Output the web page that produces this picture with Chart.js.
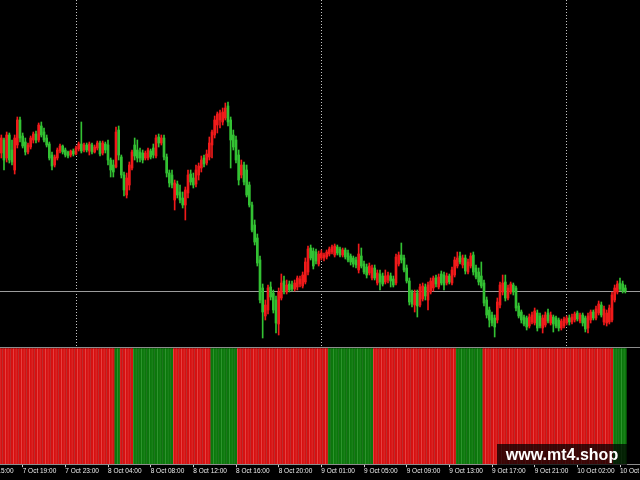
<!DOCTYPE html>
<html><head><meta charset="utf-8">
<script src="https://cdn.jsdelivr.net/npm/chart.js@4.4.0/dist/chart.umd.min.js"></script>
<style>
html,body{margin:0;padding:0;background:#000;width:640px;height:480px;overflow:hidden}
#top{position:absolute;left:0;top:0}
#bot{position:absolute;left:0;top:346px}
#wm{position:absolute;left:497px;top:444px;width:130px;height:21px;background:rgba(0,0,0,0.72);color:#fff;font:bold 16px "Liberation Sans",Arial,sans-serif;line-height:21px;text-align:center}
</style></head><body>
<canvas id="top" width="640" height="346"></canvas>
<canvas id="bot" width="640" height="134"></canvas>
<div id="wm">www.mt4.shop</div>
<script>
// Prices in points (M15 bars)
const openPts = [
192,205,187,210,195,175,200,225,209,203,
193,198,205,211,205,219,213,207,201,190,
180,187,194,199,195,193,190,194,191,196,
201,195,200,194,200,193,197,202,192,201,
200,185,180,178,215,188,170,150,160,177,
200,195,193,192,187,187,194,197,189,208,
202,207,188,172,170,145,161,153,147,140,
152,171,167,161,170,177,187,182,188,200,
210,220,225,223,227,239,225,210,205,190,
170,180,175,160,140,120,107,85,57,29,
35,58,52,45,21,47,64,53,61,60,
56,58,61,59,63,73,97,94,93,81,
87,87,88,91,93,90,98,96,90,95,
92,89,87,85,75,89,81,78,72,67,
77,62,71,69,63,65,69,66,62,81,
90,87,77,64,53,40,52,40,46,58,
45,53,57,67,58,71,70,62,69,62,
70,79,89,80,87,73,79,90,77,73,
69,62,45,35,30,27,25,40,53,63,
47,53,60,57,39,33,28,27,19,23,
22,32,29,17,20,32,22,28,27,25,
17,19,22,27,23,25,32,24,30,27,
17,25,33,27,32,40,23,22,23,25,
45,53,62,61,57];
const highPts = [
210,207,213,212,205,210,228,228,212,207,
202,209,213,214,222,223,217,210,203,193,
190,197,201,200,197,194,195,196,199,203,
223,202,202,203,202,200,204,204,204,203,
205,187,185,218,219,190,173,172,183,195,
207,205,197,195,194,197,196,201,210,211,
210,210,191,175,175,165,164,160,153,158,
175,175,172,180,182,189,190,195,208,215,
229,233,235,237,242,243,228,215,209,195,
185,183,180,163,143,125,111,89,61,45,
60,63,55,49,57,71,69,65,64,64,
65,69,69,73,87,99,100,97,96,94,
95,92,95,98,100,101,100,98,97,97,
95,91,89,88,101,97,84,81,82,80,
80,75,75,72,75,73,72,69,91,93,
102,90,80,67,55,55,55,61,62,61,
63,67,69,70,71,74,73,72,71,78,
88,93,93,90,90,86,92,93,80,77,
83,65,48,38,33,30,47,63,70,70,
60,63,62,59,42,35,30,29,31,33,
37,35,32,30,33,36,33,30,29,27,
26,28,29,30,31,33,34,32,32,29,
32,35,35,39,44,43,39,35,40,53,
60,64,67,64,60];
const lowPts = [
187,175,183,182,180,171,197,203,197,190,
191,196,202,202,203,208,203,198,185,175,
178,185,192,191,188,187,188,189,190,194,
192,193,193,190,191,192,195,189,190,192,
180,168,168,177,185,167,149,147,155,175,
185,183,183,182,185,185,186,187,187,198,
200,185,168,158,157,135,147,142,137,125,
147,160,157,158,165,173,178,180,185,187,
207,212,217,220,225,219,177,195,182,160,
167,160,148,138,113,100,79,42,7,25,
31,45,32,12,10,45,51,51,53,54,
54,55,58,57,61,70,85,76,81,79,
85,84,86,89,91,88,90,88,88,86,
83,80,78,77,72,77,71,67,70,65,
65,60,55,59,61,62,58,58,60,79,
82,73,62,40,38,33,28,38,44,45,
35,51,54,58,56,60,55,60,61,60,
68,77,81,77,71,71,77,70,66,60,
57,39,27,18,19,8,22,37,50,44,
45,51,50,34,27,22,19,15,17,21,
20,14,17,12,18,22,20,13,17,14,
15,17,20,20,21,23,24,22,19,13,
12,22,25,25,30,28,20,19,21,23,
43,51,54,52,52];
const closePts = [
207,185,210,185,183,207,225,207,199,193,
200,207,211,205,220,210,205,200,187,179,
188,195,199,193,190,189,194,191,197,201,
194,200,195,201,193,198,202,191,202,195,
185,175,173,213,190,170,155,167,180,193,
189,187,187,185,192,195,188,190,207,202,
207,188,172,162,160,162,150,145,140,155,
170,163,160,175,179,185,181,191,202,213,
225,231,232,233,237,223,205,198,185,165,
180,163,150,140,115,103,82,45,33,40,
57,48,35,22,53,62,54,60,55,56,
62,67,66,70,83,96,87,79,84,91,
92,90,93,96,98,99,92,90,95,88,
85,83,81,80,91,79,73,70,79,77,
67,72,63,61,69,70,64,60,88,90,
85,75,64,43,41,52,39,58,59,49,
60,64,67,61,68,62,60,69,63,75,
85,87,83,87,74,83,89,73,68,63,
59,42,30,25,22,18,43,60,62,47,
57,61,53,37,29,25,21,18,28,30,
34,17,19,27,30,24,30,21,19,17,
24,26,27,23,28,31,26,30,22,16,
29,33,27,36,41,30,36,32,37,50,
57,61,56,54,54];

// Indicator sub-window: runs of [state, bar count]; -1 = red, 1 = green
const histRuns = [[-1,43],[1,2],[-1,5],[1,15],[-1,14],[1,10],[-1,34],[1,17],[-1,31],[1,10],[-1,49],[1,5]];

// Time axis
const tickLabels = ['7 Oct 15:00','7 Oct 19:00','7 Oct 23:00','8 Oct 04:00','8 Oct 08:00','8 Oct 12:00','8 Oct 16:00','8 Oct 20:00','9 Oct 01:00','9 Oct 05:00','9 Oct 09:00','9 Oct 13:00','9 Oct 17:00','9 Oct 21:00','10 Oct 02:00','10 Oct 06:00'];
const tickBars = [-8,8,24,40,56,72,88,104,120,136,152,168,184,200,216,232];
const daySeparators = [28,120,212];
const bidLevel = 54;
const SLOTS = 240;

const upCol = '#f01a1a', dnCol = '#33c133';
const candleCol = openPts.map((o,i)=> closePts[i] >= o ? upCol : dnCol);

const histState = [];
histRuns.forEach(([s,n])=>{ for(let k=0;k<n;k++) histState.push(s); });
const histVals = histState.map(s=>Math.abs(s));
const histFill = histState.map(s=> s<0 ? '#d61111' : '#0c770c');
const histEdge = histState.map(s=> s<0 ? '#f06262' : '#45a845');

const common = {responsive:false, animation:false, events:[], plugins:{legend:{display:false},tooltip:{enabled:false}}};

new Chart(document.getElementById('top'), {
  type:'bar',
  data:{datasets:[
    {data:openPts.map((o,i)=>({x:i,y:[lowPts[i],highPts[i]]})), backgroundColor:candleCol, barThickness:1, grouped:false, order:2},
    {data:openPts.map((o,i)=>({x:i,y:[o,closePts[i]]})), backgroundColor:candleCol, barThickness:2, minBarLength:1, grouped:false, order:1}
  ]},
  options:Object.assign({}, common, {
    layout:{padding:0},
    scales:{
      x:{type:'linear', min:-0.5, max:SLOTS-0.5, offset:false, bounds:'data',
         afterBuildTicks:s=>{ s.ticks = daySeparators.map(v=>({value:v})); },
         ticks:{display:false},
         grid:{color:'#c4c4c4', lineWidth:1, drawTicks:false, offset:false},
         border:{display:false, dash:[1,2]}},
      y:{min:-1, max:345,
         afterBuildTicks:s=>{ s.ticks = [{value:bidLevel}]; },
         ticks:{display:false},
         grid:{color:'#9c9c9c', lineWidth:1, drawTicks:false},
         border:{display:false}}
    }
  })
});

new Chart(document.getElementById('bot'), {
  type:'bar',
  data:{datasets:[{
    data:histVals.map((v,i)=>({x:i,y:v})),
    backgroundColor:histFill, borderColor:histEdge,
    borderWidth:{left:0.6,right:0,top:0,bottom:0}, borderSkipped:false,
    barPercentage:1, categoryPercentage:1, grouped:false
  }]},
  options:Object.assign({}, common, {
    layout:{padding:{top:1,bottom:5,left:0,right:0}},
    scales:{
      x:{type:'linear', min:-0.5, max:SLOTS-0.5, offset:false, bounds:'data',
         afterBuildTicks:s=>{ s.ticks = tickBars.map(v=>({value:v})); },
         afterFit:s=>{ s.paddingLeft=0; s.paddingRight=0; },
         ticks:{autoSkip:false, maxRotation:0, minRotation:0, align:'start', padding:0, color:'#ececec',
                font:{family:'Liberation Sans', size:6.5},
                callback:(v)=>tickLabels[tickBars.indexOf(v)]},
         grid:{drawOnChartArea:false, drawTicks:true, tickLength:3, tickColor:'#d0d0d0', offset:false},
         border:{display:true, color:'#8c8c8c', width:1, z:1}},
      y:{min:0, max:1.01,
         afterBuildTicks:s=>{ s.ticks = [{value:1.01}]; },
         ticks:{display:false},
         grid:{color:'#8c8c8c', lineWidth:1, drawTicks:false},
         border:{display:false}}
    }
  })
});
</script>
</body></html>
